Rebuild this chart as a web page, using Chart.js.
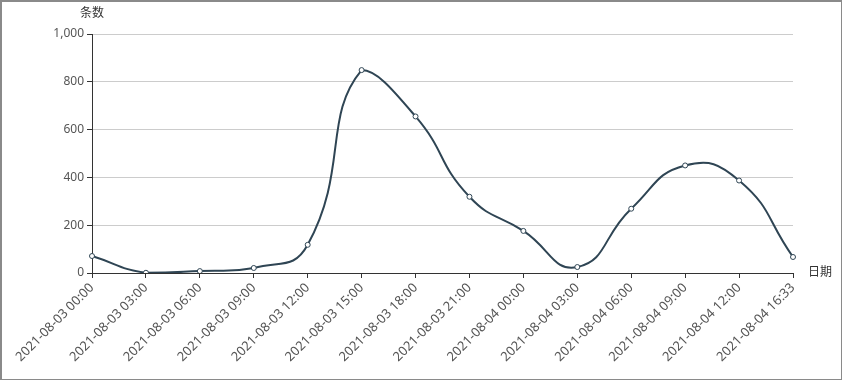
<!DOCTYPE html>
<html><head><meta charset="utf-8">
<script src="https://cdn.jsdelivr.net/npm/chart.js@4/dist/chart.umd.min.js"></script>
<style>
html,body{margin:0;padding:0;background:#fff;}
#wrap{position:relative;width:839px;height:377px;border-style:solid;border-color:#8a8a8a;border-width:2px 1px 1px 2px;}
</style></head><body>
<div id="wrap"><canvas id="c" width="839" height="377"></canvas></div>
<script>
const categories = ["2021-08-03 00:00","2021-08-03 03:00","2021-08-03 06:00","2021-08-03 09:00","2021-08-03 12:00","2021-08-03 15:00","2021-08-03 18:00","2021-08-03 21:00","2021-08-04 00:00","2021-08-04 03:00","2021-08-04 06:00","2021-08-04 09:00","2021-08-04 12:00","2021-08-04 16:33"];
const counts = [71, 1, 8, 21, 118, 849, 655, 319, 176, 25, 269, 450, 387, 67];
const yTicks = [0, 200, 400, 600, 800, 1000];
const yName = "条数";
const xName = "日期";

const FONT = "'Noto Sans', 'Noto Sans CJK SC', sans-serif";
const axisNames = {
  id: 'axisNames',
  afterDraw(chart) {
    const ctx = chart.ctx, a = chart.chartArea;
    ctx.save();
    ctx.fillStyle = '#333';
    ctx.font = "12px " + FONT;
    ctx.textAlign = 'center';
    ctx.textBaseline = 'bottom';
    ctx.fillText(yName, a.left, a.top - 14);
    ctx.textAlign = 'left';
    ctx.textBaseline = 'middle';
    ctx.fillText(xName, a.right + 15, a.bottom);
    ctx.restore();
  }
};
// keep smoothing control points inside the data's value range (no overshoot past global extremes)
const clampSmooth = {
  id: 'clampSmooth',
  beforeDatasetDraw(chart, args) {
    const meta = args.meta;
    const ys = chart.scales.y;
    meta.dataset.updateControlPoints(chart.chartArea, 'x');
    const vals = chart.data.datasets[args.index].data;
    const top = ys.getPixelForValue(Math.max(...vals));
    const bot = ys.getPixelForValue(Math.min(...vals));
    meta.data.forEach(p => {
      p.cp1y = Math.min(bot, Math.max(top, p.cp1y));
      p.cp2y = Math.min(bot, Math.max(top, p.cp2y));
    });
  }
};

new Chart(document.getElementById('c'), {
  type: 'line',
  data: {
    labels: categories,
    datasets: [{
      data: counts,
      borderColor: '#2f4554',
      borderWidth: 2,
      tension: 0.5,
      pointRadius: 2.5,
      pointBackgroundColor: '#fff',
      pointBorderColor: '#2f4554',
      pointBorderWidth: 1,
      fill: false
    }]
  },
  options: {
    responsive: false,
    animation: false,
    layout: { padding: { top: 32, right: 48, left: 0, bottom: 0 } },
    plugins: { legend: { display: false }, tooltip: { enabled: false } },
    scales: {
      x: {
        offset: false,
        grid: { drawOnChartArea: false, tickLength: 5, tickColor: '#333' },
        border: { color: '#333', width: 1 },
        ticks: { color: '#555', font: { size: 13, family: FONT }, maxRotation: 45, minRotation: 45, autoSkip: false, padding: 2 },
        afterFit(s) { s.height = 106; }
      },
      y: {
        min: 0, max: 1000,
        afterBuildTicks(s) { s.ticks = yTicks.map(v => ({ value: v })); },
        grid: { color: '#ccc', tickLength: 5, tickColor: '#333' },
        border: { color: '#333', width: 1 },
        ticks: { color: '#555', font: { size: 12, family: FONT }, padding: 3,
          callback: v => v.toLocaleString('en-US') },
        afterFit(s) { s.width = 90; }
      }
    }
  },
  plugins: [clampSmooth, axisNames]
});
</script>
</body></html>
